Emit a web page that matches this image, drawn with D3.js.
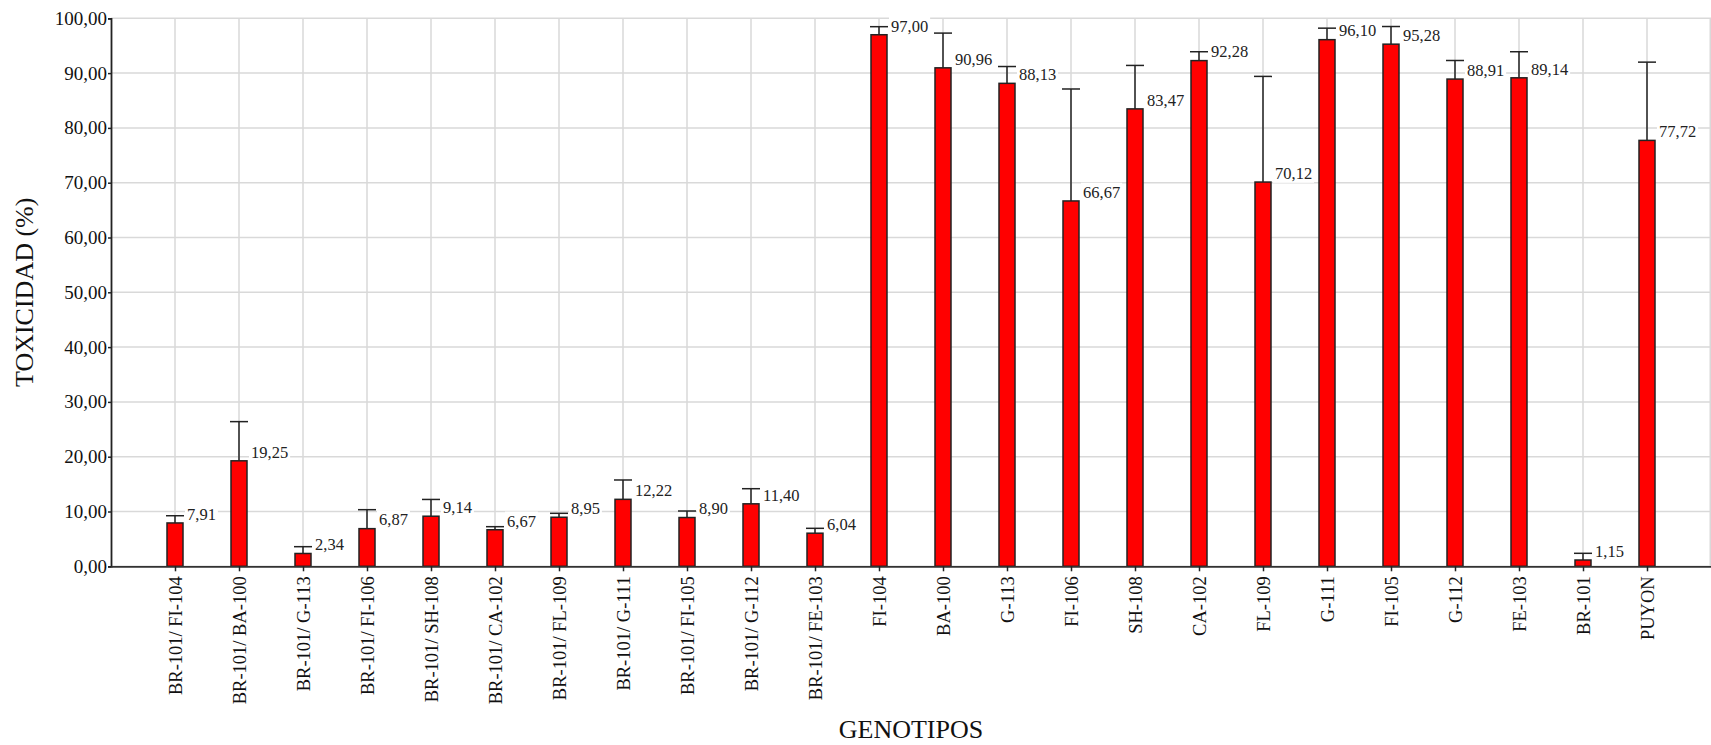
<!DOCTYPE html>
<html>
<head>
<meta charset="utf-8">
<script src="https://cdn.jsdelivr.net/npm/d3@7"></script>
<style>
  body { margin: 0; background: #fff; }
  svg { display: block; font-family: "Liberation Serif", "Times New Roman", serif; }
</style>
</head>
<body>
<div id="chart"></div>
<script>
const genotipos = [
  "BR-101/ FI-104", "BR-101/ BA-100", "BR-101/ G-113", "BR-101/ FI-106", "BR-101/ SH-108",
  "BR-101/ CA-102", "BR-101/ FL-109", "BR-101/ G-111", "BR-101/ FI-105", "BR-101/ G-112",
  "BR-101/ FE-103", "FI-104", "BA-100", "G-113", "FI-106", "SH-108", "CA-102", "FL-109",
  "G-111", "FI-105", "G-112", "FE-103", "BR-101", "PUYON"
];
const toxicidad = [
  7.91, 19.25, 2.34, 6.87, 9.14, 6.67, 8.95, 12.22, 8.90, 11.40, 6.04,
  97.00, 90.96, 88.13, 66.67, 83.47, 92.28, 70.12, 96.10, 95.28, 88.91, 89.14, 1.15, 77.72
];
// upper error
const errores = [
  1.32, 7.15, 1.24, 3.46, 3.06, 0.56, 0.72, 3.53, 1.19, 2.76, 0.89,
  1.47, 6.34, 3.07, 20.43, 7.93, 1.62, 19.28, 2.10, 3.22, 3.39, 4.76, 1.22, 14.28
];
const yTicks = [0, 10, 20, 30, 40, 50, 60, 70, 80, 90, 100];

const width = 1711;
const height = 745;
const plotLeft = 111, plotRight = 1711, plotTop = 18.3, plotBottom = 566.3;

const data = genotipos.map((g, i) => ({ g, v: toxicidad[i], e: errores[i] }));
const fmt = v => v.toFixed(2).replace(".", ",");

const svg = d3.select("#chart")
  .append("svg")
  .attr("width", width)
  .attr("height", height);

const xScale = d3.scalePoint()
  .domain(genotipos)
  .range([plotLeft, plotRight])
  .padding(1);

const yScale = d3.scaleLinear()
  .domain([0, 100])
  .range([plotBottom, plotTop]);

// grid
svg.append("g")
  .selectAll("line")
  .data(yTicks)
  .enter()
  .append("line")
  .attr("x1", plotLeft).attr("x2", plotRight)
  .attr("y1", d => yScale(d)).attr("y2", d => yScale(d))
  .attr("stroke", "#d9d9d9").attr("stroke-width", 1.5);

svg.append("g")
  .selectAll("line")
  .data(genotipos)
  .enter()
  .append("line")
  .attr("x1", d => xScale(d)).attr("x2", d => xScale(d))
  .attr("y1", plotTop).attr("y2", plotBottom)
  .attr("stroke", "#d9d9d9").attr("stroke-width", 1.5);

svg.append("line")
  .attr("x1", plotRight - 0.75).attr("x2", plotRight - 0.75)
  .attr("y1", plotTop).attr("y2", plotBottom)
  .attr("stroke", "#d9d9d9").attr("stroke-width", 1.5);

const barW = 16;

// error bars
const err = svg.append("g")
  .attr("stroke", "#222")
  .attr("stroke-width", 1.5);

err.selectAll(".stem")
  .data(data)
  .enter()
  .append("line")
  .attr("class", "stem")
  .attr("x1", d => xScale(d.g)).attr("x2", d => xScale(d.g))
  .attr("y1", d => yScale(d.v)).attr("y2", d => yScale(d.v + d.e));

err.selectAll(".cap")
  .data(data)
  .enter()
  .append("line")
  .attr("class", "cap")
  .attr("x1", d => xScale(d.g) - 9).attr("x2", d => xScale(d.g) + 9)
  .attr("y1", d => yScale(d.v + d.e)).attr("y2", d => yScale(d.v + d.e));

// bars
svg.append("g")
  .selectAll("rect")
  .data(data)
  .enter()
  .append("rect")
  .attr("x", d => xScale(d.g) - barW / 2)
  .attr("y", d => yScale(d.v))
  .attr("width", barW)
  .attr("height", d => plotBottom - yScale(d.v))
  .attr("fill", "#ff0000")
  .attr("stroke", "#222")
  .attr("stroke-width", 1.5);

// value labels
const labels = svg.append("g")
  .selectAll("g")
  .data(data)
  .enter()
  .append("g")
  .attr("transform", d => `translate(${xScale(d.g) + 12}, ${yScale(d.v) - 9})`);

labels.append("text")
  .attr("dy", "0.35em")
  .attr("font-size", 16.5)
  .attr("fill", "#222")
  .text(d => fmt(d.v));

labels.each(function() {
  const g = d3.select(this);
  const b = g.select("text").node().getBBox();
  g.insert("rect", "text")
    .attr("x", b.x - 2).attr("y", b.y)
    .attr("width", b.width + 4).attr("height", b.height)
    .attr("fill", "#fff");
});

// axes
const yAxis = d3.axisLeft(yScale)
  .tickValues(yTicks)
  .tickSize(3)
  .tickPadding(1)
  .tickFormat(fmt);

svg.append("g")
  .attr("id", "y-axis")
  .attr("transform", `translate(${plotLeft}, 0)`)
  .call(yAxis)
  .call(g => g.select(".domain").attr("stroke", "#222").attr("stroke-width", 1.8))
  .call(g => g.selectAll(".tick line").attr("stroke", "#222").attr("stroke-width", 1.5))
  .call(g => g.selectAll("text")
    .attr("font-family", "Liberation Serif")
    .attr("font-size", 19)
    .attr("fill", "#111"));

const xAxis = d3.axisBottom(xScale)
  .tickSize(5)
  .tickSizeOuter(0);

svg.append("g")
  .attr("id", "x-axis")
  .attr("transform", `translate(0, ${plotBottom})`)
  .call(xAxis)
  .call(g => g.select(".domain").attr("stroke", "#333").attr("stroke-width", 1.8))
  .call(g => g.selectAll(".tick line").attr("stroke", "#222").attr("stroke-width", 1.5))
  .call(g => g.selectAll("text")
    .attr("font-family", "Liberation Serif")
    .attr("font-size", 18.5)
    .attr("fill", "#111")
    .attr("text-anchor", "end")
    .attr("transform", "translate(0, 1) rotate(-90)")
    .attr("x", -9)
    .attr("y", 0)
    .attr("dy", "0.35em"));

// titles
svg.append("text")
  .attr("x", (plotLeft + plotRight) / 2)
  .attr("y", 738)
  .attr("text-anchor", "middle")
  .attr("font-size", 26)
  .attr("fill", "#111")
  .text("GENOTIPOS");

svg.append("text")
  .attr("transform", `translate(33, ${(plotTop + plotBottom) / 2}) rotate(-90)`)
  .attr("text-anchor", "middle")
  .attr("font-size", 26)
  .attr("fill", "#111")
  .text("TOXICIDAD (%)");
</script>
</body>
</html>
